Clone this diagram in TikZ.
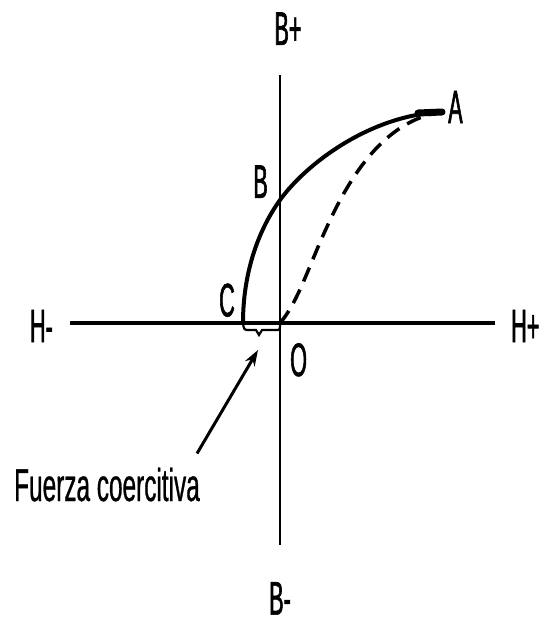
\documentclass[tikz,border=0pt]{standalone}
\usepackage{fontspec}
\usetikzlibrary{positioning, arrows.meta}
\newfontfamily\lettering[FakeStretch=0.46, FakeBold=1.2]{Liberation Sans}
\newfontfamily\notefont[FakeStretch=0.53, FakeBold=0.6]{Liberation Sans}

\begin{document}
\begin{tikzpicture}[x=1pt, y=-1pt, >=Stealth,
    lbl/.style={font=\lettering\fontsize{47}{48}\selectfont, inner sep=0pt},
    axisline/.style={line width=3pt},
    loopline/.style={line width=4pt, line cap=round},
    virgin/.style={line width=3.5pt, dash pattern=on 15pt off 9pt}]
  \useasboundingbox (0,0) rectangle (554,625);
  % axes
  \coordinate (hL) at (70,323);
  \coordinate (hR) at (495,323);
  \coordinate (vT) at (280,75);
  \coordinate (vB) at (280,545);
  \coordinate (O) at (280,323);
  \draw[axisline, line width=3.8pt] (hL) -- (hR);
  \draw[axisline, line width=2.8pt] (vT) -- (vB);
  \node[lbl, left=17pt of hL, yshift=-3pt] (Hneg) {H-};
  \node[lbl, right=16pt of hR, yshift=-3pt] (Hpos) {H+};
  \node[lbl, above=30pt of vT, xshift=8pt] (Bpos) {B+};
  \node[lbl, below=37pt of vB] (Bneg) {B-};
  % points on the curve
  \coordinate (Apt) at (442,112);
  \coordinate (Bpt) at (280,200);
  \coordinate (Cpt) at (243,323);
  \node[lbl, right=6pt of Apt, yshift=5pt] (lA) {A};
  \node[lbl, above left=2pt and 12pt of Bpt] (lB) {B};
  \node[lbl, above left=6pt and 8pt of Cpt] (lC) {C};
  \node[lbl, below right=20pt and 10pt of O] (lO) {O};
  % first magnetization (dashed)
  \draw[virgin] (O) .. controls (300,300) and (310,260) .. (335,210)
    .. controls (365,150) and (400,118) .. (Apt);
  % return branch A -> B -> C
  \draw[loopline] (Apt) .. controls (370,115) and (306,164) .. (Bpt)
    .. controls (257,232) and (243,275) .. (Cpt);
  \draw[line width=7pt, line cap=round] (418,113) -- (Apt);
  \draw[line width=2.2pt] (Cpt) .. controls (244,330) .. (250,330) -- (256,330)
    -- (259,335) -- (262,330) -- (276,330) .. controls (280,330) .. (O);
  % coercive force
  \coordinate (hc) at (258,350);
  \node[inner sep=0pt, font=\notefont\fontsize{46}{48}\selectfont, anchor=base west] (fc) at (14,501) {Fuerza coercitiva};
  \draw[line width=3pt, -{Stealth[length=16pt, width=11pt]}] ([shift={(-3,-14)}]fc.north east) -- (hc);
\end{tikzpicture}
\end{document}
